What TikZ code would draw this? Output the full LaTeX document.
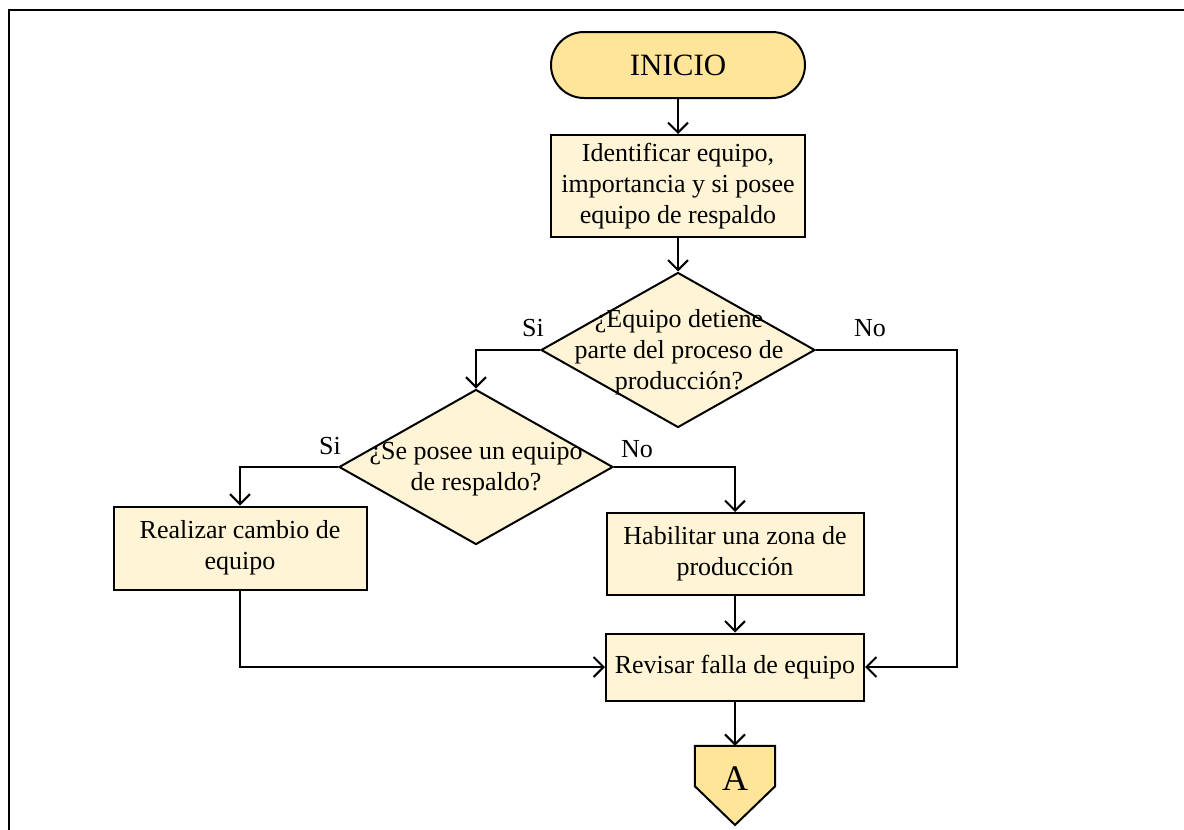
\documentclass[tikz,border=0pt]{standalone}
\usepackage{fontspec}
\setmainfont{Liberation Serif}
\usetikzlibrary{arrows.meta,shapes.geometric}
\definecolor{termfill}{RGB}{255,229,153}
\definecolor{boxfill}{RGB}{255,244,214}

\begin{document}
\begin{tikzpicture}[x=1pt,y=-1pt,
  every node/.style={font=\fontsize{26}{31}\selectfont},
  proc/.style={draw,line width=2pt,fill=boxfill,align=center,inner sep=0pt},
  decision/.style={diamond,draw,line width=2pt,fill=boxfill,inner sep=0pt,minimum width=274,minimum height=155},
  flow/.style={line width=2pt,-{Straight Barb[length=10pt,width=20pt]}}]
\useasboundingbox (0,0) rectangle (1184,830);
% marco de la hoja
\draw[line width=2pt] (1184,10) -- (9,10) -- (9,830);

\node[draw,line width=2pt,fill=termfill,rounded corners=33pt,minimum width=254,minimum height=66,font=\fontsize{31}{36}\selectfont] (inicio) at (678,65) {INICIO};
\node[proc,minimum width=254,minimum height=102] (ident) at (678,186) {Identificar equipo,\\importancia y si posee\\equipo de respaldo};

\node[decision] (d1) at (678,350) {};
\node[align=center] (d1txt) at (679,352) {¿Equipo detiene\\parte del proceso de\\producción?};
\node[decision] (d2) at (476,467) {};
\node[align=center] (d2txt) at (476,469) {¿Se posee un equipo\\de respaldo?};

\node[proc,minimum width=253,minimum height=83] (cambio) at (240,548) {Realizar cambio de\\equipo};
\node[proc,minimum width=257,minimum height=82] (zona) at (735,554) {Habilitar una zona de\\producción};
\node[proc,minimum width=258,minimum height=67] (revisar) at (735,667) {Revisar falla de equipo};

% conector fuera de pagina
\node[minimum width=80,minimum height=40,inner sep=0pt] (conA) at (735,766) {};
\draw[line width=2pt,fill=termfill] (conA.north west) -- (conA.north east) -- (conA.south east)
  -- (735,825) -- (conA.south west) -- cycle;
\node[font=\fontsize{36}{40}\selectfont] (conAtxt) at (735,779) {A};

\node (si1) at (533,328) {Si};
\node (no1) at (870,328) {No};
\node (si2) at (330,446) {Si};
\node (no2) at (637,449) {No};

\coordinate (giro) at (957,350);

\draw[flow] (inicio) -- (ident);
\draw[flow] (ident) -- (d1);
\draw[flow] (d1.west) -| (d2.north);
\draw[flow] (d1.east) -- (giro) |- (revisar.east);
\draw[flow] (d2.west) -| (cambio.north);
\draw[flow] (d2.east) -| (zona.north);
\draw[flow] (cambio.south) |- (revisar.west);
\draw[flow] (zona) -- (revisar);
\draw[flow] (revisar) -- (conA);
\end{tikzpicture}
\end{document}
